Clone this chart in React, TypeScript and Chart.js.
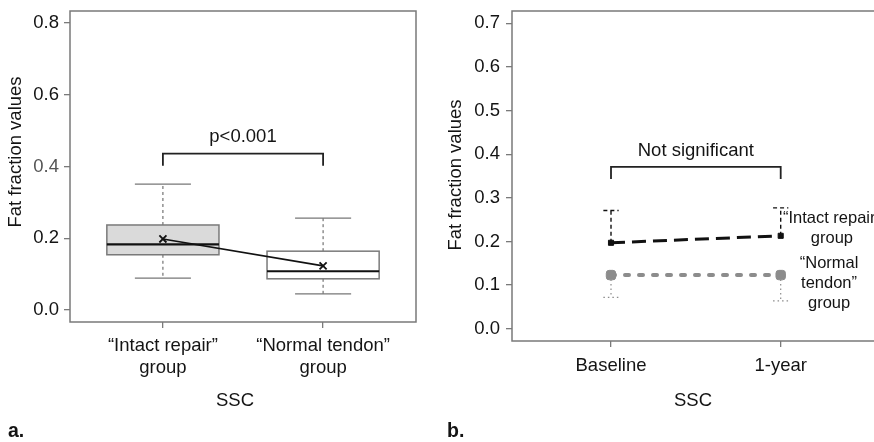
import React, { useEffect, useRef } from 'react';
import { Chart, registerables } from 'chart.js';

Chart.register(...registerables);

// ---------- Panel a: box plots ----------
const boxCategories = [['“Intact repair”', 'group'], ['“Normal tendon”', 'group']];
const boxMin = [0.089, 0.045];
const boxQ1 = [0.154, 0.087];
const boxMedian = [0.183, 0.108];
const boxQ3 = [0.237, 0.164];
const boxMax = [0.351, 0.256];
const boxMean = [0.198, 0.123];
const leftYTicks = [0, 0.2, 0.4, 0.6, 0.8];
const leftBracketText = 'p<0.001';
const leftBracketTop = 0.436;
const leftBracketLeg = 0.402;
const leftBracketLabelY = 0.482;

// ---------- Panel b: follow-up ----------
const timepoints = ['Baseline', '1-year'];
const intactMean = [0.197, 0.213];
const intactUpper = [0.271, 0.277];
const normalMean = [0.123, 0.123];
const normalLower = [0.072, 0.064];
const rightYTicks = [0, 0.1, 0.2, 0.3, 0.4, 0.5, 0.6, 0.7];
const rightBracketText = 'Not significant';
const rightBracketTop = 0.371;
const rightBracketLeg = 0.343;
const rightBracketLabelY = 0.408;
const intactLabel = ['“Intact repair”', 'group'];
const normalLabel = ['“Normal', 'tendon”', 'group'];

// ---------- styles ----------
const FONT = "'Liberation Sans', Arial, Helvetica, sans-serif";
const TEXT = '#141414';
const FRAME = '#7a7a7a';
const boxFills = ['#dadada', '#ffffff'];

function line(ctx: CanvasRenderingContext2D, x1: number, y1: number, x2: number, y2: number) {
  ctx.beginPath();
  ctx.moveTo(x1, y1);
  ctx.lineTo(x2, y2);
  ctx.stroke();
}

function text(ctx: CanvasRenderingContext2D, s: string, x: number, y: number, size: number, opts: any = {}) {
  ctx.save();
  ctx.fillStyle = opts.color || TEXT;
  ctx.font = `${opts.bold ? 'bold ' : ''}${size}px ${FONT}`;
  ctx.textAlign = opts.align || 'center';
  ctx.textBaseline = 'middle';
  ctx.translate(x, y);
  if (opts.rotate) ctx.rotate(opts.rotate);
  ctx.fillText(s, 0, 0);
  ctx.restore();
}

const framePlugin = (closedRight: boolean) => ({
  id: 'frame',
  afterDatasetsDraw(chart: any) {
    const { ctx, chartArea: a } = chart;
    ctx.save();
    ctx.strokeStyle = FRAME;
    ctx.lineWidth = 1.5;
    ctx.beginPath();
    ctx.moveTo(closedRight ? a.right : a.right + 2, a.top);
    ctx.lineTo(a.left, a.top);
    ctx.lineTo(a.left, a.bottom);
    ctx.lineTo(closedRight ? a.right : a.right + 2, a.bottom);
    if (closedRight) ctx.closePath();
    ctx.stroke();
    ctx.restore();
  },
});

const titlesPlugin = (cfg: any) => ({
  id: 'titles',
  afterDraw(chart: any) {
    const { ctx } = chart;
    text(ctx, 'Fat fraction values', cfg.yTitleX, cfg.yTitleY, 18.5, { rotate: -Math.PI / 2 });
    text(ctx, 'SSC', cfg.xTitleX, cfg.xTitleY, 18.5);
    text(ctx, cfg.letter, cfg.letterX, cfg.letterY, 19.5, { bold: true, align: 'left' });
  },
});

const bracketPlugin = (label: string, top: number, leg: number, labelY: number) => ({
  id: 'bracket',
  afterDatasetsDraw(chart: any) {
    const { ctx, scales: { x, y } } = chart;
    const x1 = x.getPixelForValue(1);
    const x2 = x.getPixelForValue(2);
    const yt = y.getPixelForValue(top);
    const yl = y.getPixelForValue(leg);
    ctx.save();
    ctx.strokeStyle = '#222';
    ctx.lineWidth = 1.8;
    ctx.beginPath();
    ctx.moveTo(x1, yl);
    ctx.lineTo(x1, yt);
    ctx.lineTo(x2, yt);
    ctx.lineTo(x2, yl);
    ctx.stroke();
    ctx.restore();
    text(ctx, label, (x1 + x2) / 2, y.getPixelForValue(labelY), 18.5);
  },
});

const boxPlugin = {
  id: 'boxplot',
  beforeDatasetsDraw(chart: any) {
    const { ctx, scales: { x, y } } = chart;
    const halfW = 0.35;
    const capHalf = 0.175;
    boxMedian.forEach((_, i) => {
      const c = i + 1;
      const px = x.getPixelForValue(c);
      const xl = x.getPixelForValue(c - halfW);
      const xr = x.getPixelForValue(c + halfW);
      const cl = x.getPixelForValue(c - capHalf);
      const cr = x.getPixelForValue(c + capHalf);
      const yMin = y.getPixelForValue(boxMin[i]);
      const yQ1 = y.getPixelForValue(boxQ1[i]);
      const yMed = y.getPixelForValue(boxMedian[i]);
      const yQ3 = y.getPixelForValue(boxQ3[i]);
      const yMax = y.getPixelForValue(boxMax[i]);
      ctx.save();
      ctx.strokeStyle = '#666';
      ctx.lineWidth = 1.1;
      ctx.setLineDash([3, 3]);
      line(ctx, px, yQ3, px, yMax);
      line(ctx, px, yQ1, px, yMin);
      ctx.setLineDash([]);
      ctx.strokeStyle = '#777';
      ctx.lineWidth = 1.3;
      line(ctx, cl, yMax, cr, yMax);
      line(ctx, cl, yMin, cr, yMin);
      ctx.fillStyle = boxFills[i];
      ctx.fillRect(xl, yQ3, xr - xl, yQ1 - yQ3);
      ctx.strokeStyle = '#7a7a7a';
      ctx.lineWidth = 1.5;
      ctx.strokeRect(xl, yQ3, xr - xl, yQ1 - yQ3);
      ctx.strokeStyle = '#111';
      ctx.lineWidth = 2.2;
      line(ctx, xl, yMed, xr, yMed);
      ctx.restore();
    });
  },
};

const errorBarPlugin = {
  id: 'errorbars',
  beforeDatasetsDraw(chart: any) {
    const { ctx, scales: { x, y } } = chart;
    const capHalf = 0.045;
    ctx.save();
    intactMean.forEach((m, i) => {
      const c = i + 1;
      ctx.strokeStyle = '#111';
      ctx.lineWidth = 1.4;
      ctx.setLineDash([4, 3]);
      line(ctx, x.getPixelForValue(c), y.getPixelForValue(m), x.getPixelForValue(c), y.getPixelForValue(intactUpper[i]));
      line(ctx, x.getPixelForValue(c - capHalf), y.getPixelForValue(intactUpper[i]), x.getPixelForValue(c + capHalf), y.getPixelForValue(intactUpper[i]));
    });
    normalMean.forEach((m, i) => {
      const c = i + 1;
      ctx.strokeStyle = '#8c8c8c';
      ctx.lineWidth = 1.2;
      ctx.setLineDash([1.5, 3]);
      line(ctx, x.getPixelForValue(c), y.getPixelForValue(m), x.getPixelForValue(c), y.getPixelForValue(normalLower[i]));
      line(ctx, x.getPixelForValue(c - capHalf), y.getPixelForValue(normalLower[i]), x.getPixelForValue(c + capHalf), y.getPixelForValue(normalLower[i]));
    });
    ctx.restore();
  },
};

const seriesLabelPlugin = {
  id: 'serieslabels',
  afterDraw(chart: any) {
    const { ctx, scales: { x, y } } = chart;
    const drawBlock = (lines: string[], xVal: number, centerVal: number, spacing: number) => {
      const cx = x.getPixelForValue(xVal);
      const cy = y.getPixelForValue(centerVal);
      lines.forEach((s, k) => {
        text(ctx, s, cx, cy + (k - (lines.length - 1) / 2) * spacing, 16.5);
      });
    };
    drawBlock(intactLabel, 2.302, 0.229, 20);
    drawBlock(normalLabel, 2.285, 0.1035, 19.7);
  },
};

function yAxis(min: number, max: number, tickVals: number[], width: number, pad: number, greyVal?: number) {
  return {
    type: 'linear',
    position: 'left',
    min,
    max,
    afterBuildTicks: (s: any) => {
      s.ticks = tickVals.map((v) => ({ value: v }));
    },
    afterFit: (s: any) => {
      s.width = width;
      s.paddingTop = 0;
      s.paddingBottom = 0;
    },
    border: { display: false },
    grid: { drawOnChartArea: false, drawTicks: true, tickLength: 6, color: FRAME, lineWidth: 1.3 },
    ticks: {
      padding: pad,
      font: { family: FONT, size: 18.5 },
      color: (c: any) => (greyVal !== undefined && c.tick && Math.abs(c.tick.value - greyVal) < 1e-9 ? '#555' : TEXT),
      callback: (v: any) => Number(v).toFixed(1),
    },
  };
}

function xAxis(min: number, max: number, labels: any[], height: number, pad: number) {
  return {
    type: 'linear',
    position: 'bottom',
    min,
    max,
    afterBuildTicks: (s: any) => {
      s.ticks = labels.map((_, i) => ({ value: i + 1 }));
    },
    afterFit: (s: any) => {
      s.height = height;
      s.paddingLeft = 0;
      s.paddingRight = 0;
    },
    border: { display: false },
    grid: { drawOnChartArea: false, drawTicks: true, tickLength: 6, color: FRAME, lineWidth: 1.3 },
    ticks: {
      padding: pad,
      maxRotation: 0,
      autoSkip: false,
      font: { family: FONT, size: 18.5, lineHeight: 1.2 },
      color: TEXT,
      callback: (_v: any, i: number) => labels[i],
    },
  };
}

export default function App() {
  const leftRef = useRef<HTMLCanvasElement>(null);
  const rightRef = useRef<HTMLCanvasElement>(null);

  useEffect(() => {
    const left = new Chart(leftRef.current as HTMLCanvasElement, {
      type: 'line',
      data: {
        datasets: [
          {
            label: 'Mean',
            data: boxMean.map((v, i) => ({ x: i + 1, y: v })),
            borderColor: '#111',
            borderWidth: 1.6,
            pointStyle: 'crossRot',
            pointRadius: 5,
            pointBorderWidth: 1.8,
            pointBorderColor: '#111',
            fill: false,
          },
        ],
      },
      options: {
        responsive: false,
        animation: false,
        events: [],
        layout: { autoPadding: false, padding: { left: 0, top: 11, right: 24, bottom: 0 } },
        plugins: { legend: { display: false }, tooltip: { enabled: false } },
        scales: {
          x: xAxis(0.42, 2.58, boxCategories, 120, 7) as any,
          y: yAxis(-0.0334, 0.8334, leftYTicks, 70, 5, 0.4) as any,
        },
      },
      plugins: [
        boxPlugin,
        framePlugin(true),
        bracketPlugin(leftBracketText, leftBracketTop, leftBracketLeg, leftBracketLabelY),
        titlesPlugin({ yTitleX: 16, yTitleY: 152, xTitleX: 235, xTitleY: 401, letter: 'a.', letterX: 8, letterY: 432 }),
      ],
    } as any);

    const right = new Chart(rightRef.current as HTMLCanvasElement, {
      type: 'line',
      data: {
        datasets: [
          {
            label: '“Intact repair” group',
            data: intactMean.map((v, i) => ({ x: i + 1, y: v })),
            borderColor: '#111',
            borderWidth: 3,
            borderDash: [14, 7],
            pointStyle: 'rect',
            pointRadius: 3.6,
            pointBackgroundColor: '#111',
            pointBorderColor: '#111',
            pointBorderWidth: 1,
            fill: false,
          },
          {
            label: '“Normal tendon” group',
            data: normalMean.map((v, i) => ({ x: i + 1, y: v })),
            borderColor: '#8c8c8c',
            borderWidth: 4,
            borderDash: [4, 10],
            borderCapStyle: 'round',
            pointStyle: 'rectRounded',
            pointRadius: 5.5,
            pointBackgroundColor: '#8c8c8c',
            pointBorderColor: '#8c8c8c',
            pointBorderWidth: 1,
            fill: false,
          },
        ],
      },
      options: {
        responsive: false,
        animation: false,
        events: [],
        layout: { autoPadding: false, padding: { left: 0, top: 11, right: 0, bottom: 0 } },
        plugins: { legend: { display: false }, tooltip: { enabled: false } },
        scales: {
          x: xAxis(0.4166, 2.5498, timepoints, 101, 8) as any,
          y: yAxis(-0.028, 0.728, rightYTicks, 72, 6) as any,
        },
      },
      plugins: [
        errorBarPlugin,
        framePlugin(false),
        bracketPlugin(rightBracketText, rightBracketTop, rightBracketLeg, rightBracketLabelY),
        seriesLabelPlugin,
        titlesPlugin({ yTitleX: 16, yTitleY: 175, xTitleX: 253, xTitleY: 401, letter: 'b.', letterX: 7, letterY: 432 }),
      ],
    } as any);

    return () => {
      left.destroy();
      right.destroy();
    };
  }, []);

  return (
    <div style={{ position: 'absolute', left: 0, top: 0, width: 874, height: 442, background: '#fff', overflow: 'hidden' }}>
      <canvas ref={leftRef} width={440} height={442} style={{ position: 'absolute', left: 0, top: 0, display: 'block' }} />
      <canvas ref={rightRef} width={434} height={442} style={{ position: 'absolute', left: 440, top: 0, display: 'block' }} />
    </div>
  );
}
